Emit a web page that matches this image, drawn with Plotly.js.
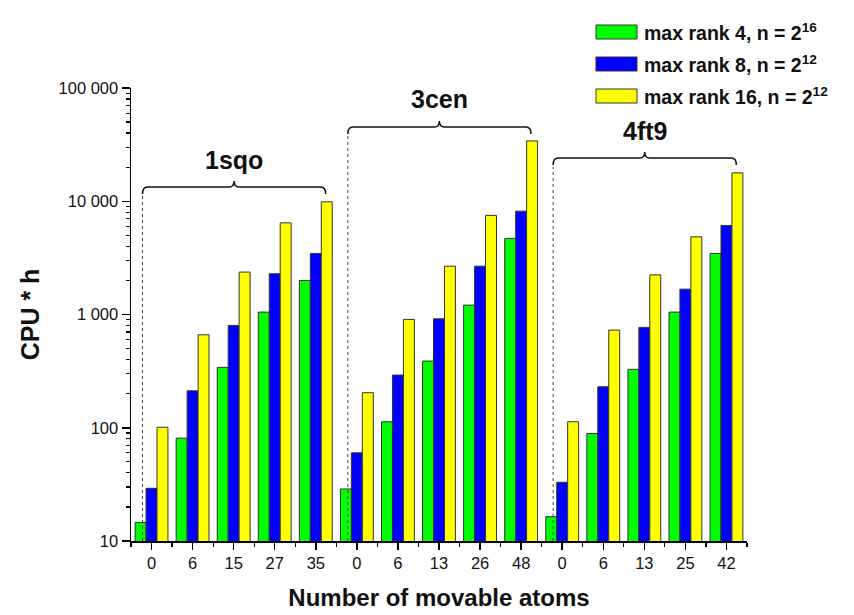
<!DOCTYPE html>
<html>
<head>
<meta charset="utf-8">
<script src="https://cdn.plot.ly/plotly-3.0.1.min.js"></script>
<style>html,body{margin:0;padding:0;background:#fff;}#chart{width:854px;height:615px;}</style>
</head>
<body>
<div id="chart"></div>
<script>
// ---- data ----
const atoms = ['0','6','15','27','35','0','6','13','26','48','0','6','13','25','42'];
const groupNames = ['1sqo','3cen','4ft9'];
const groupStart = [0, 5, 10];
const groupEnd = [4, 9, 14];
const seriesNames = ['max rank 4, n = 2<sup>16</sup>','max rank 8, n = 2<sup>12</sup>','max rank 16, n = 2<sup>12</sup>'];
const rank4 = [14.6, 81, 341, 1050, 2000, 28.8, 113, 388, 1210, 4700, 16.4, 89, 328, 1050, 3460];
const rank8 = [29.2, 212, 801, 2290, 3460, 60, 292, 916, 2670, 8180, 33, 230, 769, 1675, 6110];
const rank16 = [101, 662, 2370, 6450, 9880, 204, 905, 2670, 7500, 34100, 113, 728, 2240, 4850, 17800];
const yTickVals = [10, 100, 1000, 10000, 100000];
const yTickText = ['10', '100', '1 000', '10 000', '100 000'];

// ---- styles ----
const colors = ['#00FF00', '#0000FF', '#FFFF00'];
const FONT = 'Arial, "Liberation Sans", sans-serif';

const xIdx = atoms.map((_, i) => i);
const seriesVals = [rank4, rank8, rank16];

const traces = seriesVals.map((vals, k) => ({
  type: 'bar',
  x: xIdx,
  y: vals,
  name: seriesNames[k],
  marker: {color: colors[k], line: {color: '#333', width: 1}},
  showlegend: false
}));

// geometry helpers (plot area: x 131..747, y 88..541 px)
const L = 131, R = 747, T = 88, B = 541;
const px = p => (p - L) / (R - L);
const py = p => (B - p) / (B - T);

const minorVals = [];
for (let d = 10; d < 100000; d *= 10) for (let m = 2; m <= 9; m++) minorVals.push(d * m);

const shapes = [];
const annotations = [];

// group braces
const braceY = [187, 127, 158];  // horizontal line pixel y
const labelY = [160, 99, 131];
groupNames.forEach((g, i) => {
  const x0 = groupStart[i] - 0.22, x1 = groupEnd[i] + 0.24;
  const xc = (x0 + x1) / 2;
  const yh = py(braceY[i]), yb = py(braceY[i] + 7), yc = py(braceY[i] - 6);
  const r = 0.12;
  const path = `M ${x0},${yb} Q ${x0},${yh} ${x0 + r},${yh} L ${xc - r},${yh} Q ${xc},${yh} ${xc},${yc} Q ${xc},${yh} ${xc + r},${yh} L ${x1 - r},${yh} Q ${x1},${yh} ${x1},${yb}`;
  shapes.push({type: 'path', xref: 'x', yref: 'paper', path: path, line: {color: '#111', width: 1.5}});
  shapes.push({type: 'line', xref: 'x', yref: 'paper', x0: x0, x1: x0, y0: 0, y1: py(braceY[i] + 9),
    line: {color: '#444', width: 1, dash: 'dot'}});
  annotations.push({xref: 'x', yref: 'paper', x: xc, y: py(labelY[i]), text: '<b>' + g + '</b>',
    showarrow: false, font: {family: FONT, size: 25, color: '#111'}, xanchor: 'center', yanchor: 'middle'});
});

// manual legend
const legRows = [32, 64, 96];
seriesNames.forEach((n, k) => {
  shapes.push({type: 'rect', xref: 'paper', yref: 'paper', x0: px(596), x1: px(637),
    y0: py(legRows[k] + 7), y1: py(legRows[k] - 7), fillcolor: colors[k], line: {color: '#333', width: 1}});
  annotations.push({xref: 'paper', yref: 'paper', x: px(642), y: py(legRows[k]), text: '<b>' + n + '</b>',
    showarrow: false, xanchor: 'left', yanchor: 'middle', font: {family: FONT, size: 19.5, color: '#111'}});
});

const layout = {
  width: 854, height: 615,
  margin: {l: L, r: 854 - R, t: T, b: 615 - B, pad: 0},
  paper_bgcolor: '#fff', plot_bgcolor: '#fff',
  barmode: 'group', bargap: 0.2, bargroupgap: 0,
  showlegend: false,
  font: {family: FONT, color: '#111'},
  xaxis: {
    range: [-0.5, 14.5], tickmode: 'array', tickvals: xIdx, ticktext: atoms,
    showline: true, linecolor: '#000', linewidth: 1.5, showgrid: false, zeroline: false,
    ticks: 'outside', ticklen: 7, tickwidth: 1.5, tickcolor: '#000',
    minor: {tick0: 0.5, dtick: 1, ticks: 'outside', ticklen: 4, tickwidth: 1.2, tickcolor: '#000', showgrid: false},
    tickfont: {family: FONT, size: 16.5, color: '#111'},
    title: {text: '<b>Number of movable atoms</b>', font: {family: FONT, size: 24, color: '#111'}, standoff: 18}
  },
  yaxis: {
    type: 'log', range: [1, 5], tickmode: 'array', tickvals: yTickVals, ticktext: yTickText,
    showline: true, linecolor: '#000', linewidth: 1.5, showgrid: false, zeroline: false,
    ticks: 'outside', ticklen: 8, tickwidth: 1.5, tickcolor: '#000',
    minor: {tickmode: 'array', tickvals: minorVals, ticks: 'outside', ticklen: 4, tickwidth: 1.2, tickcolor: '#000', showgrid: false},
    tickfont: {family: FONT, size: 16.5, color: '#111'},
    title: {text: '<b>CPU * h</b>', font: {family: FONT, size: 25, color: '#111'}, standoff: 12}
  },
  shapes: shapes,
  annotations: annotations
};

Plotly.newPlot('chart', traces, layout, {displayModeBar: false, staticPlot: true});
</script>
</body>
</html>
